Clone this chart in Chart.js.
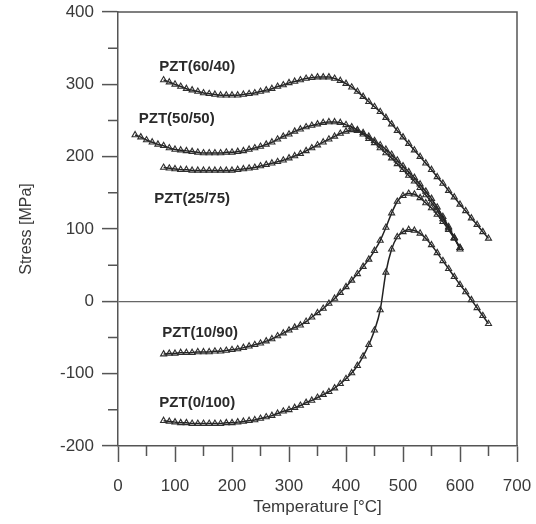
<!DOCTYPE html>
<html lang="en">
<head>
  <meta charset="UTF-8" />
  <title>Stress vs Temperature, PZT films</title>
  <script src="https://cdn.jsdelivr.net/npm/chart.js"></script>
  <style>
    body {
      margin: 0;
      background: #ffffff;
    }
    #wrap {
      width: 536px;
      height: 524px;
    }
  </style>
</head>
<body>
<div id="wrap"><canvas id="chart" width="536" height="524"></canvas></div>

<script>
// temperatures [°C]
const tempA = [80,90,100,110,120,130,140,150,160,170,180,190,200,210,220,230,240,250,260,270,
  280,290,300,310,320,330,340,350,360,370,380,390,400,410,420,430,440,450,460,470,
  480,490,500,510,520,530,540,550,560,570,580,590,600,610,620,630,640,650];
const tempB = [30,40,50,60,70,80,90,100,110,120,130,140,150,160,170,180,190,200,210,220,
  230,240,250,260,270,280,290,300,310,320,330,340,350,360,370,380,390,400,410,420,
  430,440,450,460,470,480,490,500,510,520,530,540,550,560,570,580,590,600];
const tempC = [80,90,100,110,120,130,140,150,160,170,180,190,200,210,220,230,240,250,260,270,
  280,290,300,310,320,330,340,350,360,370,380,390,400,410,420,430,440,450,460,470,
  480,490,500,510,520,530,540,550,560,570,580,590,600];

// stress [MPa]
const pzt6040 = [306,303,300,297,294,292,290,288,287,286, 285,285,285,285,286,287,288,290,292,294,
  297,299,302,304,306,308,309,310,310,310, 308,305,301,296,290,283,276,269,262,254,
  245,236,227,218,209,200,191,182,172,163, 153,144,134,125,115,106,96,87];
const pzt5050 = [230,227,223,220,217,215,212,210,209,208, 207,206,205,205,205,205,206,206,207,208,
  210,212,214,217,220,224,228,231,235,238, 241,243,245,247,248,248,247,244,241,237,
  233,228,222,216,210,203,195,187,179,171, 162,152,142,130,117,103,88,72];
const pzt2575 = [185,184,183,182,182,181,181,181,181,181, 181,181,181,182,183,184,185,187,189,191,
  193,195,198,201,204,208,212,216,220,224, 228,232,235,237,236,231,225,219,212,205,
  198,190,182,174,166,157,147,137,126,114, 101,88,74];
const pzt1090 = [-73,-72,-72,-71,-71,-71,-70,-70,-70,-69, -69,-68,-67,-66,-64,-62,-60,-58,-55,-52,
  -48,-44,-40,-36,-33,-28,-22,-16,-10,-3, 4,12,20,29,38,48,58,70,84,102,
  122,138,146,149,148,143,136,129,120,110, 99,87,74];
const pzt0100 = [-165,-166,-167,-168,-168,-169,-169,-169,-169,-169, -169,-168,-168,-167,-166,-165,-164,-162,-160,-158,
  -155,-152,-150,-147,-144,-140,-137,-133,-129,-125, -120,-114,-107,-99,-89,-76,-60,-40,-12,40,
  72,89,96,99,98,94,87,78,67,56, 45,34,23,13,2,-9,-20,-31];

// curve labels, placed in data units
const labelText = ['PZT(60/40)', 'PZT(50/50)', 'PZT(25/75)', 'PZT(10/90)', 'PZT(0/100)'];
const labelT = [139, 103, 130, 144, 139];
const labelS = [324, 252, 142, -43, -140];

function pts(xs, ys) {
  return xs.map((x, i) => ({ x: x, y: ys[i] }));
}

function series(name, xs, ys) {
  return {
    label: name,
    data: pts(xs, ys),
    showLine: true,
    cubicInterpolationMode: 'monotone',
    borderColor: '#222',
    borderWidth: 1.5,
    pointStyle: 'triangle',
    pointRadius: 3.5,
    pointBorderWidth: 1.1,
    pointBorderColor: '#2e2e2e',
    pointBackgroundColor: 'rgba(255,255,255,0)'
  };
}

const axisColor = '#555';
const textColor = '#3a3a3a';
const fontFam = '"Liberation Sans", Arial, sans-serif';

// frame on top/right, minor ticks and curve labels
const extras = {
  id: 'extras',
  afterDatasetsDraw(chart) {
    const ctx = chart.ctx;
    const a = chart.chartArea;
    const xs = chart.scales.x, ys = chart.scales.y;
    ctx.save();
    ctx.strokeStyle = axisColor;
    ctx.lineWidth = 1.5;
    ctx.beginPath();
    ctx.moveTo(a.left, a.top);
    ctx.lineTo(a.right, a.top);
    ctx.lineTo(a.right, a.bottom);
    ctx.stroke();

    ctx.beginPath();
    for (let v = 50; v < 700; v += 100) {
      const px = xs.getPixelForValue(v);
      ctx.moveTo(px, a.bottom);
      ctx.lineTo(px, a.bottom + 10);
    }
    for (let v = -150; v < 400; v += 100) {
      const py = ys.getPixelForValue(v);
      ctx.moveTo(a.left - 10, py);
      ctx.lineTo(a.left, py);
    }
    ctx.stroke();

    ctx.fillStyle = '#2a2a2a';
    ctx.font = 'bold 15px ' + fontFam;
    ctx.textAlign = 'center';
    ctx.textBaseline = 'middle';
    labelText.forEach((t, i) => {
      ctx.fillText(t, xs.getPixelForValue(labelT[i]), ys.getPixelForValue(labelS[i]));
    });
    ctx.restore();
  }
};

new Chart(document.getElementById('chart'), {
  type: 'scatter',
  data: {
    datasets: [
      series('PZT(60/40)', tempA, pzt6040),
      series('PZT(50/50)', tempB, pzt5050),
      series('PZT(25/75)', tempC, pzt2575),
      series('PZT(10/90)', tempC, pzt1090),
      series('PZT(0/100)', tempA, pzt0100)
    ]
  },
  options: {
    responsive: false,
    animation: false,
    layout: { padding: { left: 0, top: 12, right: 19, bottom: 0 } },
    plugins: {
      legend: { display: false },
      tooltip: { enabled: false }
    },
    scales: {
      x: {
        type: 'linear',
        min: 0,
        max: 700,
        afterFit: (s) => { s.height = 78; s.paddingLeft = 0; s.paddingRight = 0; },
        ticks: {
          stepSize: 100,
          padding: 14,
          color: textColor,
          font: { family: fontFam, size: 17 }
        },
        grid: {
          drawOnChartArea: false,
          tickLength: 16,
          tickWidth: 1.5,
          tickColor: axisColor
        },
        border: { color: axisColor, width: 1.5 },
        title: {
          display: true,
          text: 'Temperature [°C]',
          color: textColor,
          font: { family: fontFam, size: 17 },
          padding: { top: 0, bottom: 6 }
        }
      },
      y: {
        min: -200,
        max: 400,
        afterFit: (s) => { s.width = 118; s.paddingTop = 0; s.paddingBottom = 0; },
        ticks: {
          stepSize: 100,
          padding: 8,
          color: textColor,
          font: { family: fontFam, size: 17 }
        },
        grid: {
          drawOnChartArea: true,
          color: (c) => (c.tick && c.tick.value === 0 ? '#666' : 'rgba(0,0,0,0)'),
          lineWidth: 1.2,
          tickLength: 16,
          tickWidth: 1.5,
          tickColor: axisColor
        },
        border: { color: axisColor, width: 1.5 },
        title: {
          display: true,
          text: 'Stress [MPa]',
          color: textColor,
          font: { family: fontFam, size: 16 },
          padding: { top: 17, bottom: 0 }
        }
      }
    }
  },
  plugins: [extras]
});
</script>
</body>
</html>
